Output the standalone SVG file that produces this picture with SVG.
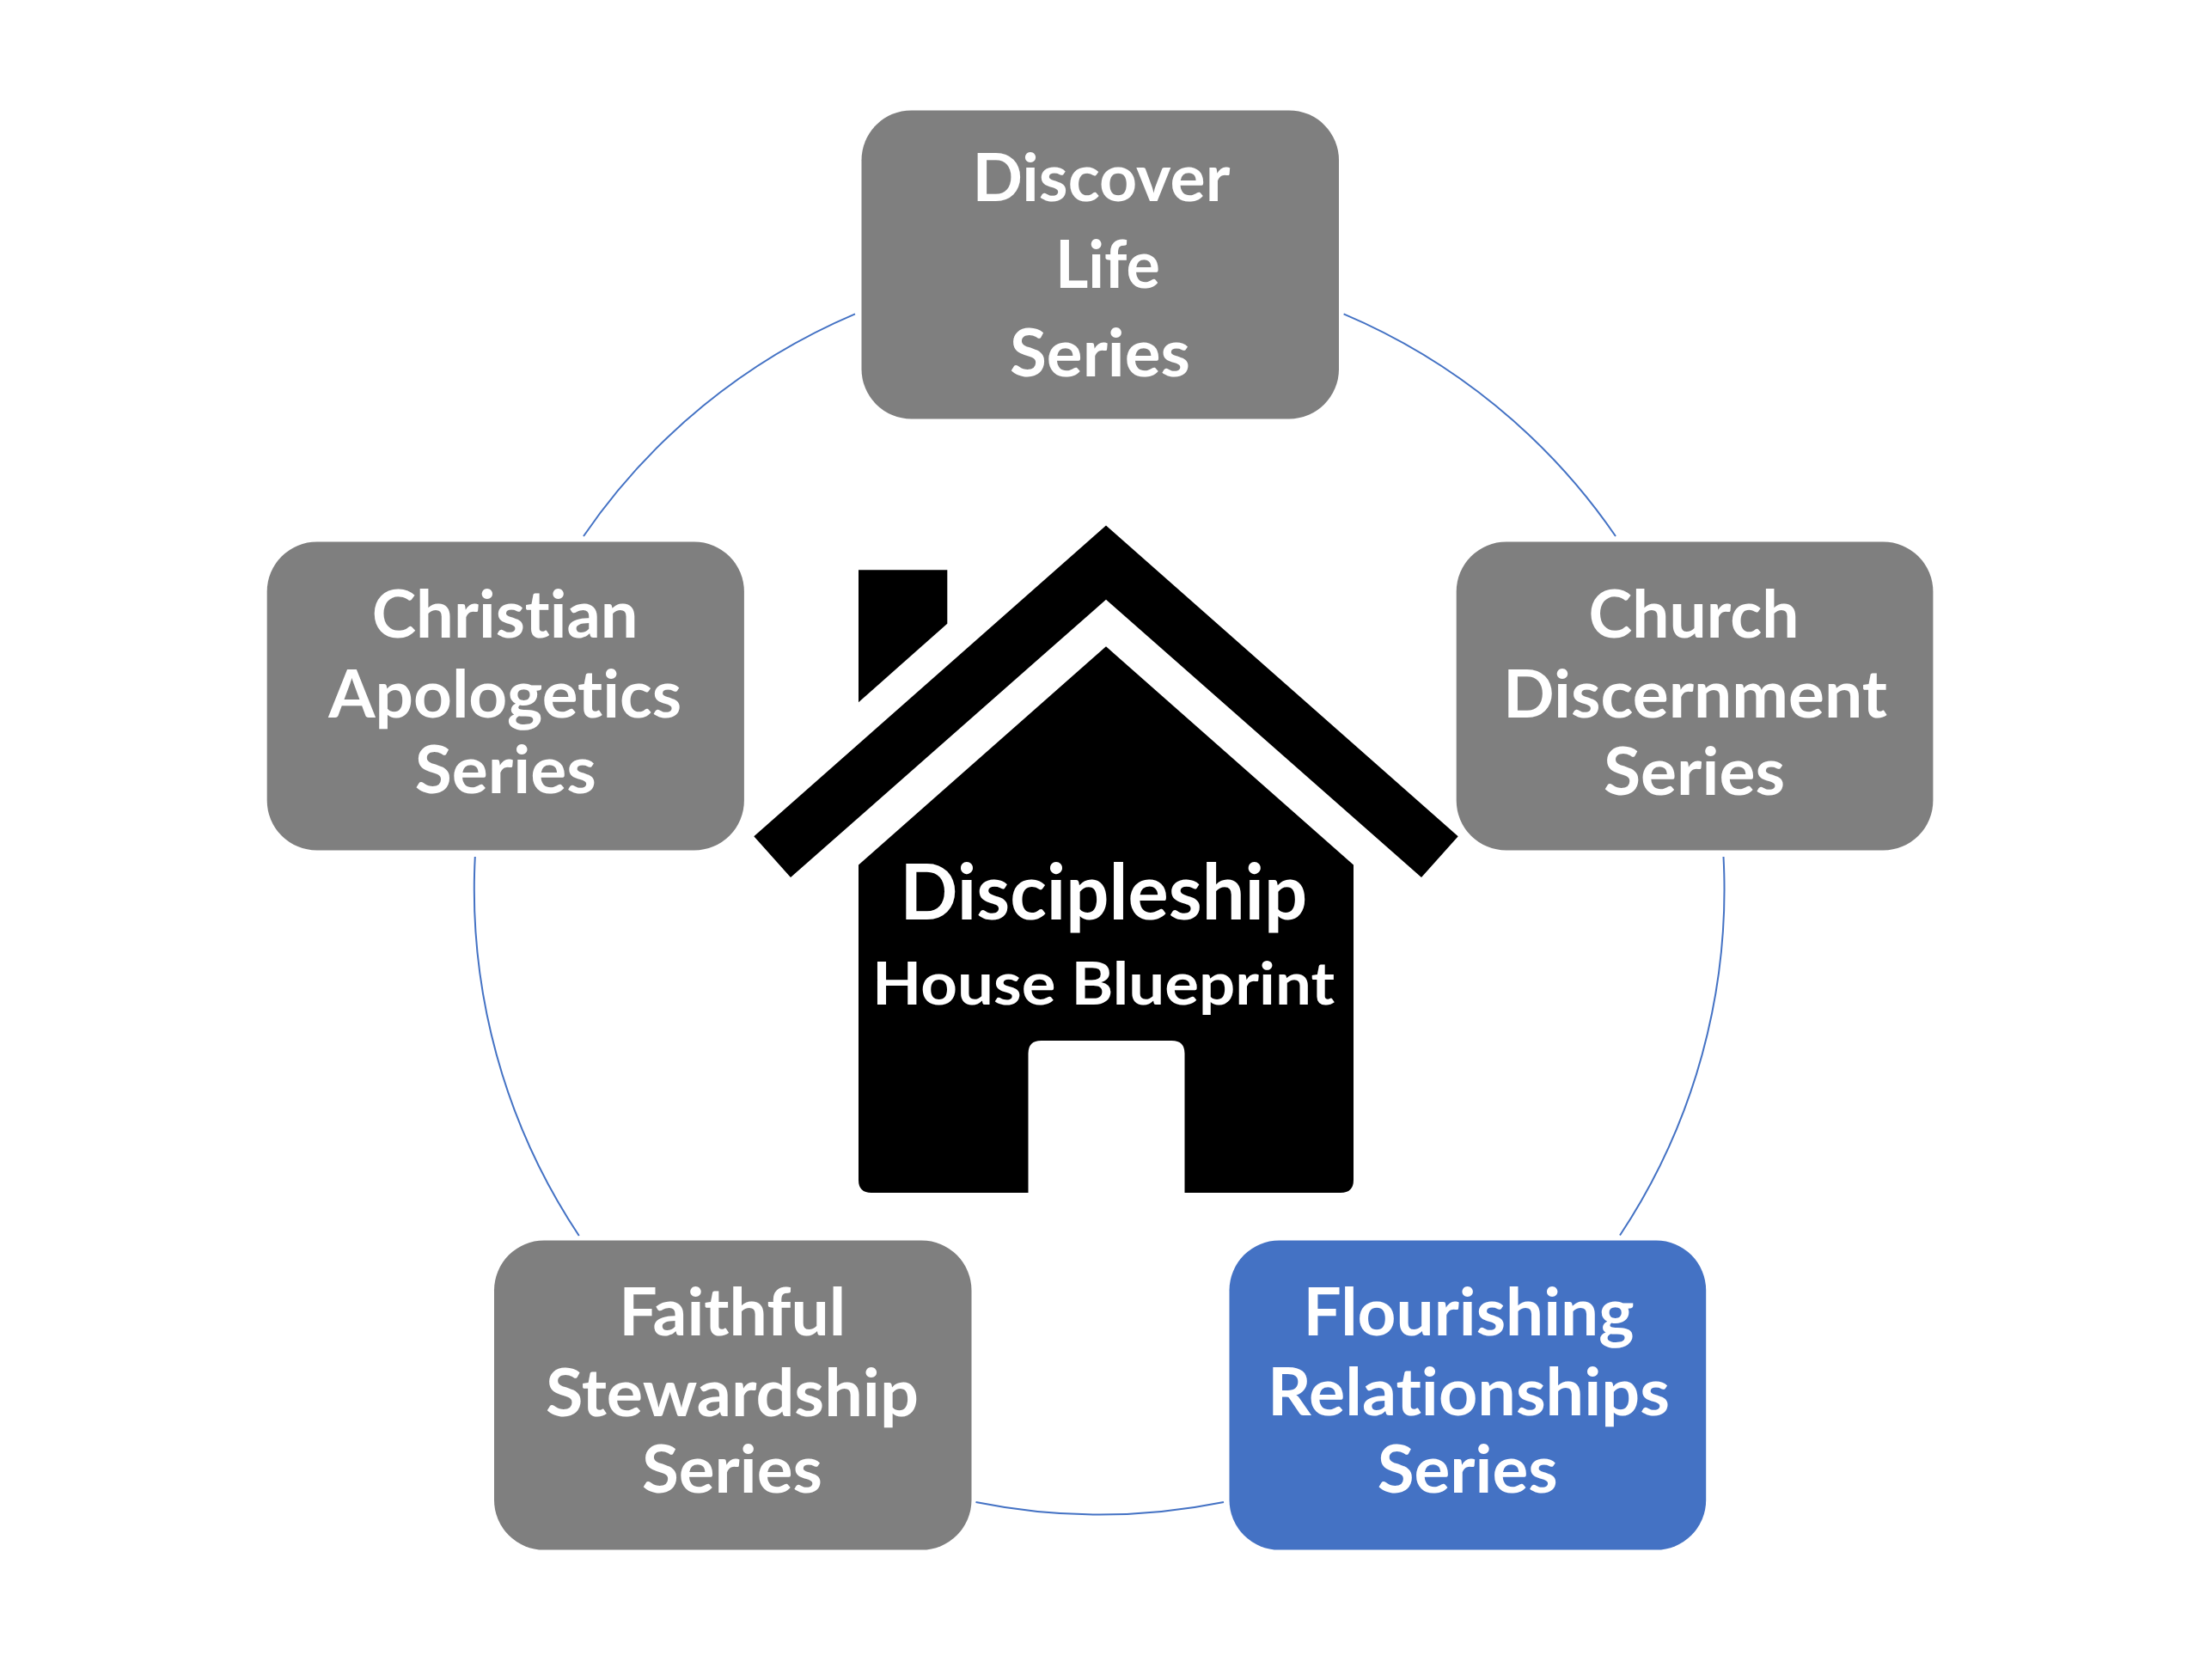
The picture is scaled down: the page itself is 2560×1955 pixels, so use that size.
<svg xmlns="http://www.w3.org/2000/svg" width="2560" height="1955" viewBox="0 0 2560 1955">
  <style>
    .bg { fill: #ffffff; }
    .arc { fill: none; stroke: #4472C4; stroke-width: 2; }
    .box { fill: #7F7F7F; }
    .box-blue { fill: #4472C4; }
    text { font-variant-ligatures: none; font-feature-settings: "liga" 0, "clig" 0, "dlig" 0; }
    .lbl { font-family: Lato, "Open Sans", "Liberation Sans", sans-serif; font-weight: 700; font-size: 76px; fill: #ffffff; text-anchor: middle; }
    .house { fill: #000000; }
    .h1 { font-family: Lato, "Open Sans", "Liberation Sans", sans-serif; font-weight: 700; font-size: 90px; fill: #ffffff; text-anchor: middle; }
    .h2 { font-family: Lato, "Open Sans", "Liberation Sans", sans-serif; font-weight: 700; font-size: 69px; fill: #ffffff; text-anchor: middle; }
  </style>
  <rect class="bg" x="0" y="0" width="2560" height="1955"/>

  <g id="connectors">
    <path class="arc" d="M 679 624 A 727.5 727.5 0 0 1 995 365.4"/>
    <path class="arc" d="M 1563.6 365.4 A 727.5 727.5 0 0 1 1880 624"/>
    <path class="arc" d="M 2005.5 997 A 727.5 727.5 0 0 1 1885 1437.5"/>
    <path class="arc" d="M 1424 1748 A 727.5 727.5 0 0 1 1135.5 1748"/>
    <path class="arc" d="M 673.8 1438 A 727.5 727.5 0 0 1 552.8 997"/>
  </g>

  <g id="house">
    <path class="house" d="M 1287 611.5 L 1696.7 973.3 L 1654 1021 L 1287 697.7 L 920 1021 L 877.3 973.3 Z"/>
    <path class="house" d="M 999 663.3 L 1102.3 663.3 L 1102.3 725.7 L 999 817.3 Z"/>
    <path class="house" d="M 1287 752.3 L 1575 1006.5 L 1575 1373 Q 1575 1388 1560 1388 L 1378.5 1388 L 1378.5 1226 Q 1378.5 1211 1363.5 1211 L 1211.5 1211 Q 1196.5 1211 1196.5 1226 L 1196.5 1388 L 1014 1388 Q 999 1388 999 1373 L 999 1006.5 Z"/>
    <text class="h1" x="1284.3" y="1069.6" textLength="474" lengthAdjust="spacingAndGlyphs">Discipleship</text>
    <text class="h2" x="1284.1" y="1169.1" textLength="538" lengthAdjust="spacingAndGlyphs">House Blueprint</text>
  </g>

  <g id="node-discover">
    <rect class="box" x="1002.5" y="128.4" width="555.5" height="359" rx="58" ry="58"/>
    <text class="lbl" x="1281.4" y="233.6" textLength="300" lengthAdjust="spacingAndGlyphs">Discover</text>
    <text class="lbl" x="1289" y="334.6" textLength="122" lengthAdjust="spacingAndGlyphs">Life</text>
    <text class="lbl" x="1280" y="437.7" textLength="210" lengthAdjust="spacingAndGlyphs">Series</text>
  </g>

  <g id="node-church">
    <rect class="box" x="1694.7" y="630.5" width="554.7" height="359" rx="58" ry="58"/>
    <text class="lbl" x="1971" y="742" textLength="245" lengthAdjust="spacingAndGlyphs">Church</text>
    <text class="lbl" x="1972.5" y="834.6" textLength="447" lengthAdjust="spacingAndGlyphs">Discernment</text>
    <text class="lbl" x="1971.5" y="925" textLength="211" lengthAdjust="spacingAndGlyphs">Series</text>
  </g>

  <g id="node-flourishing">
    <rect class="box-blue" x="1430.5" y="1443.6" width="554.7" height="360" rx="58" ry="58"/>
    <text class="lbl" x="1709" y="1554.3" textLength="385" lengthAdjust="spacingAndGlyphs">Flourishing</text>
    <text class="lbl" x="1708.9" y="1646.9" textLength="468" lengthAdjust="spacingAndGlyphs">Relationships</text>
    <text class="lbl" x="1707.7" y="1737.4" textLength="210" lengthAdjust="spacingAndGlyphs">Series</text>
  </g>

  <g id="node-faithful">
    <rect class="box" x="575" y="1443.6" width="555.5" height="360" rx="58" ry="58"/>
    <text class="lbl" x="852.3" y="1554.3" textLength="264" lengthAdjust="spacingAndGlyphs">Faithful</text>
    <text class="lbl" x="852" y="1647.7" textLength="434" lengthAdjust="spacingAndGlyphs">Stewardship</text>
    <text class="lbl" x="851.9" y="1737.4" textLength="210" lengthAdjust="spacingAndGlyphs">Series</text>
  </g>

  <g id="node-christian">
    <rect class="box" x="310.7" y="630.5" width="555.2" height="359" rx="58" ry="58"/>
    <text class="lbl" x="587.7" y="742" textLength="310" lengthAdjust="spacingAndGlyphs">Christian</text>
    <text class="lbl" x="587.7" y="834.6" textLength="411" lengthAdjust="spacingAndGlyphs">Apologetics</text>
    <text class="lbl" x="588.3" y="923" textLength="211" lengthAdjust="spacingAndGlyphs">Series</text>
  </g>
</svg>
